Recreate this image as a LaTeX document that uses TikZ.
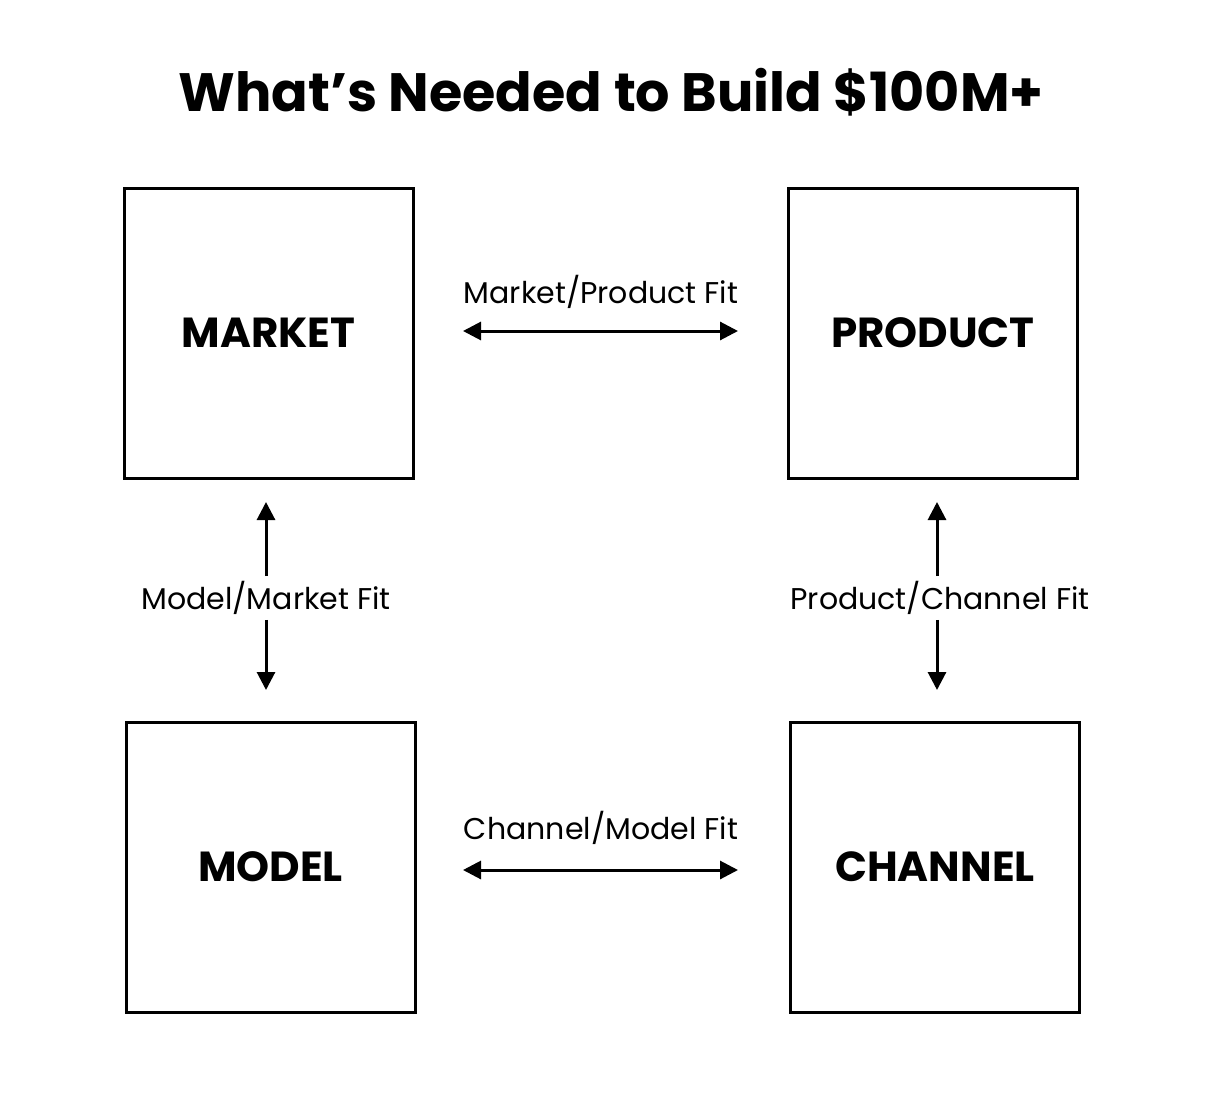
\documentclass[tikz,border=0pt]{standalone}
\usepackage{fontspec}
\setmainfont{Poppins}
\usetikzlibrary{arrows.meta}
\begin{document}
\begin{tikzpicture}[x=1pt,y=-1pt,
  box/.style={draw,line width=3pt,minimum width=289pt,minimum height=290pt,inner sep=0pt,font=\fontsize{42}{44}\selectfont\bfseries},
  lab/.style={font=\fontsize{30}{32}\selectfont,inner sep=5pt},
  arr/.style={line width=3pt,-{Triangle[length=18pt,width=18pt]}},
  darr/.style={line width=3pt,{Triangle[length=18pt,width=18pt]}-{Triangle[length=18pt,width=18pt]}}]
\useasboundingbox (0,0) rectangle (1206,1105);
\node[font=\fontsize{54}{58}\selectfont\bfseries] (title) at (611,92) {What’s Needed to Build \$100M+};
\node[box] (market) at (268.5,333) {MARKET};
\node[box] (product) at (933,333) {PRODUCT};
\node[box] (model) at (270.5,867) {MODEL};
\node[box] (channel) at (935,867) {CHANNEL};
\coordinate (h1a) at (463,331); \coordinate (h1b) at (738,331);
\coordinate (h2a) at (463,870); \coordinate (h2b) at (738,870);
\draw[darr] (h1a) -- (h1b);
\draw[darr] (h2a) -- (h2b);
\node[lab] (mpf) at (601,292) {Market/Product Fit};
\node[lab] (cmf) at (601,828) {Channel/Model Fit};
\node[lab] (mmf) at (266,598) {Model/Market Fit};
\node[lab] (pcf) at (940,598) {Product/Channel Fit};
\coordinate (v1a) at (266,502); \coordinate (v1b) at (266,690);
\coordinate (v2a) at (937,502); \coordinate (v2b) at (937,690);
\draw[arr] (mmf.north -| v1a) -- (v1a);
\draw[arr] (mmf.south -| v1b) -- (v1b);
\draw[arr] (pcf.north -| v2a) -- (v2a);
\draw[arr] (pcf.south -| v2b) -- (v2b);
\end{tikzpicture}
\end{document}
